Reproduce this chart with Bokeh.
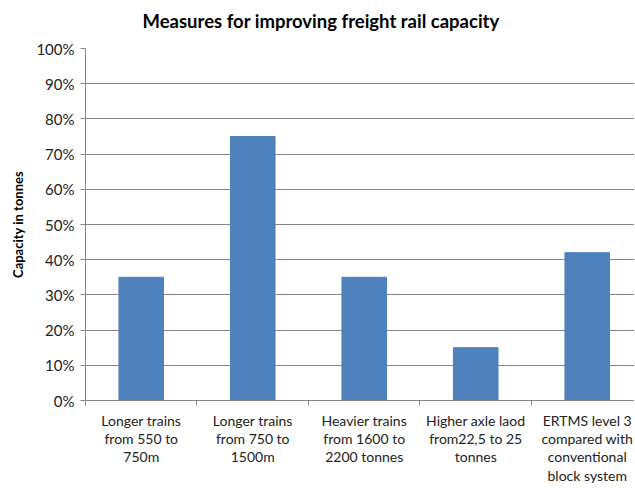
from bokeh.plotting import figure
from bokeh.models import Range1d, FixedTicker, NumeralTickFormatter, LinearAxis, Title
from bokeh.embed import file_html
from bokeh.resources import INLINE

title_text = "Measures for improving freight rail capacity"
y_axis_title = "Capacity in tonnes"
categories = [
    "Longer trains\nfrom 550 to\n750m",
    "Longer trains\nfrom 750 to\n1500m",
    "Heavier trains\nfrom 1600 to\n2200 tonnes",
    "Higher axle laod\nfrom22,5 to 25\ntonnes",
    "ERTMS level 3\ncompared with\nconventional\nblock system",
]
values = [0.35, 0.75, 0.35, 0.15, 0.42]
y_ticks = [0, 0.1, 0.2, 0.3, 0.4, 0.5, 0.6, 0.7, 0.8, 0.9, 1.0]

FONT = "Lato"
GRAY = "#868686"

centers = [i + 0.5 for i in range(len(categories))]

p = figure(width=634, height=487, output_backend="svg", toolbar_location=None,
           title=None,
           x_range=Range1d(0, 4.924), y_range=Range1d(0, 1),
           min_border_left=85, min_border_right=0, min_border_top=48,
           min_border_bottom=87, x_axis_location=None, y_axis_location=None)

p.vbar(x=centers, top=values, width=0.4, color="#4F81BD", line_color="#4F81BD")

# spacer between title and plot area (closest to the frame)
spacer = Title(text=" ", text_font=FONT, text_font_size="1px", standoff=14)
p.add_layout(spacer, "above")

main_title = Title(text=title_text, align="left", vertical_align="bottom", offset=57,
                   standoff=0, text_font=FONT, text_font_size="18.5px",
                   text_font_style="bold", text_color="#000000")
p.add_layout(main_title, "above")

yaxis = LinearAxis(ticker=FixedTicker(ticks=y_ticks, minor_ticks=[]),
                   formatter=NumeralTickFormatter(format="0%"))
yaxis.axis_label = y_axis_title
yaxis.axis_label_text_font = FONT
yaxis.axis_label_text_font_size = "13px"
yaxis.axis_label_text_font_style = "bold"
yaxis.axis_label_text_color = "#000000"
yaxis.axis_label_standoff = 7
yaxis.major_label_text_font = FONT
yaxis.major_label_text_font_size = "15px"
yaxis.major_label_text_color = "#222222"
yaxis.major_label_standoff = 6
yaxis.axis_line_color = GRAY
yaxis.major_tick_line_color = GRAY
yaxis.major_tick_in = 0
yaxis.major_tick_out = 5
yaxis.minor_tick_line_color = None
p.add_layout(yaxis, "left")

xaxis = LinearAxis(ticker=FixedTicker(ticks=centers, minor_ticks=list(range(0, 6))),
                   major_label_overrides={c: lab for c, lab in zip(centers, categories)})
xaxis.major_label_text_font = FONT
xaxis.major_label_text_font_size = "14px"
xaxis.major_label_text_color = "#222222"
xaxis.major_label_text_line_height = 1.08
xaxis.major_label_standoff = 6
xaxis.major_tick_line_color = None
xaxis.major_tick_in = 0
xaxis.major_tick_out = 0
xaxis.minor_tick_line_color = GRAY
xaxis.minor_tick_in = 0
xaxis.minor_tick_out = 5
xaxis.axis_line_color = GRAY
p.add_layout(xaxis, "below")

p.xgrid.visible = False
p.ygrid.grid_line_color = GRAY
p.ygrid.ticker = FixedTicker(ticks=y_ticks)
p.outline_line_color = None

open("out.html", "w").write(file_html(p, INLINE))
